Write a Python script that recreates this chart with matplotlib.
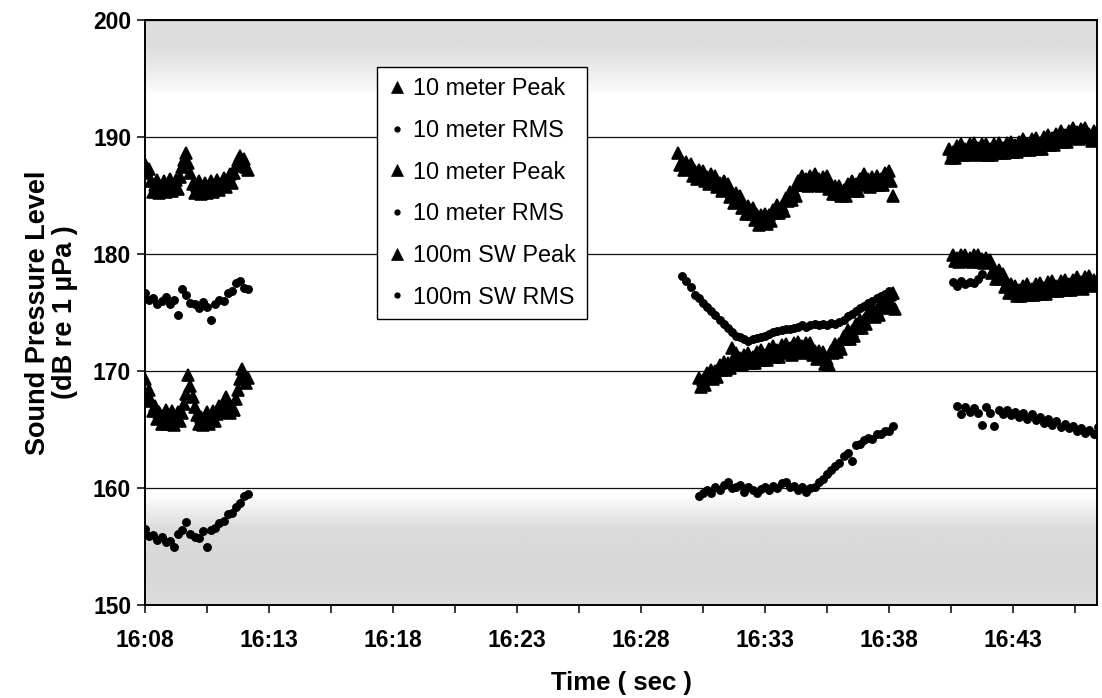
import matplotlib.pyplot as plt
import numpy as np
from matplotlib.ticker import FixedLocator, FuncFormatter

plt.rcParams['font.family'] = ['Liberation Sans', 'DejaVu Sans']
plt.rcParams['font.weight'] = 'bold'

# peak levels logged every 5 s, RMS levels every 10 s
PEAK_SEC = 5
RMS_SEC = 10

# ---- 16:08 - 16:12 block ----
g1_start = "16:08:00"
g1_peak_hi = [187.7, 186.9, 187.3, 186.2, 185.3, 185.9, 186.3, 185.2, 185.7, 186.2,
              185.3, 185.8, 186.4, 185.4, 185.9, 186.3, 185.6, 186.6, 187.4, 188.0,
              188.6, 187.8, 186.9, 186.0, 185.2, 185.8, 186.2, 185.1, 185.6, 186.1,
              185.2, 185.7, 186.2, 185.3, 185.8, 186.3, 185.5, 186.0, 186.5, 185.7,
              186.2, 186.8, 186.1, 186.9, 187.5, 188.0, 188.4, 187.9, 188.1, 187.4, 187.2]
g1_rms_hi = [176.7, 176.1, 176.2, 175.7, 176.0, 176.3, 175.7, 176.1, 174.8, 177.0, 176.5, 175.8, 175.7,
             175.4, 175.9, 175.5, 174.4, 175.7, 176.1, 176.0, 176.7, 176.8, 177.5, 177.7, 177.1, 177.0]
g1_peak_lo = [169.3, 167.9, 168.4, 167.4, 166.6, 167.0, 165.9, 166.5, 165.5, 166.2,
              166.7, 165.5, 166.1, 166.6, 165.4, 166.0, 166.5, 165.7, 166.4, 167.2,
              168.0, 169.7, 168.7, 167.8, 166.9, 166.2, 165.5, 166.1, 165.4, 165.9,
              166.5, 165.5, 166.0, 166.6, 165.7, 166.3, 167.0, 166.5, 167.3, 167.8,
              166.8, 166.4, 167.0, 166.7, 167.6, 168.4, 169.3, 170.2, 169.6, 169.0, 169.4]
g1_rms_lo = [156.5, 155.9, 156.0, 155.6, 155.8, 155.4, 155.5, 155.0, 156.1, 156.4, 157.1, 156.1, 155.8,
             155.7, 156.3, 155.0, 156.4, 156.6, 157.0, 157.2, 157.8, 157.9, 158.4, 158.7, 159.3, 159.5]

# ---- 16:29 - 16:38 block ----
g2_peak_hi_start = "16:29:30"
g2_peak_hi = [188.6, 187.6, 187.9, 187.2, 187.9, 187.3, 187.7, 186.7, 187.1, 186.4, 187.2, 186.6,
              187.1, 186.2, 186.6, 186.0, 186.8, 186.3, 186.7, 185.7, 186.1, 185.4, 186.2, 185.6,
              186.0, 184.9, 185.2, 184.4, 185.2, 184.5, 185.0, 183.9, 184.2, 183.4, 184.1, 183.4,
              183.9, 182.9, 183.3, 182.5, 183.3, 182.7, 183.4, 182.6, 183.3, 182.8, 183.8, 183.5,
              184.2, 183.5, 184.1, 183.7, 184.8, 184.5, 185.3, 184.6, 185.4, 185.0, 186.2, 185.9,
              186.7, 185.9, 186.4, 185.8, 186.7, 186.2, 186.8, 185.9, 186.4, 185.8, 186.6, 186.1,
              186.7, 185.6, 185.9, 185.1, 185.8, 185.1, 185.8, 185.0, 185.5, 185.0, 186.0, 185.5,
              186.2, 185.4, 186.0, 185.4, 186.4, 186.0, 186.8, 185.9, 186.4, 185.7, 186.6, 186.1,
              186.7, 185.9, 186.4, 185.9, 186.9, 186.4, 187.1, 186.2, 185.0]
g2_rms_hi_start = "16:29:40"
g2_rms_hi = [178.1, 177.7, 177.2, 176.5, 176.2, 175.8, 175.5, 175.1, 174.8, 174.4, 174.0, 173.7, 173.3,
             173.0, 172.9, 172.7, 172.6, 172.7, 172.8, 172.9, 173.0, 173.2, 173.3, 173.4, 173.5, 173.6,
             173.6, 173.7, 173.8, 173.9, 173.8, 173.9, 174.0, 173.9, 174.0, 173.9, 174.1, 174.0, 174.2,
             174.4, 174.7, 174.9, 175.1, 175.4, 175.6, 175.8, 176.0, 176.2, 176.4, 176.6, 176.8, 176.3]
g2_lo_start = "16:30:20"
g2_peak_lo = [169.4, 168.6, 169.2, 168.8, 169.8, 169.4, 170.1, 169.3, 170.0, 169.5, 170.5, 170.1,
              170.8, 170.1, 170.7, 170.3, 172.0, 170.9, 171.5, 170.6, 171.1, 170.5, 171.4, 170.9,
              171.5, 170.7, 171.2, 170.7, 171.6, 171.1, 171.8, 170.9, 171.4, 170.9, 171.9, 171.4,
              172.1, 171.2, 171.8, 171.2, 172.2, 171.7, 172.3, 171.5, 172.0, 171.4, 172.4, 171.9,
              172.5, 171.6, 172.1, 171.5, 172.4, 171.9, 172.4, 171.4, 171.7, 171.0, 171.7, 171.1,
              171.6, 170.6, 171.0, 170.5, 171.7, 171.5, 172.3, 171.6, 172.3, 171.9, 173.0, 172.7,
              173.5, 172.7, 173.4, 173.0, 174.0, 173.7, 174.4, 173.7, 174.4, 174.0, 175.0, 174.7,
              175.4, 174.6, 175.2, 174.8, 175.8, 175.4, 176.2, 175.5, 176.1, 175.6, 176.7, 175.3]
g2_rms_lo = [159.3, 159.6, 159.8, 159.6, 160.1, 159.8, 160.3, 160.5, 160.0, 160.1, 160.3, 159.7, 160.1,
             159.8, 159.6, 159.9, 160.1, 159.8, 160.2, 160.0, 160.4, 160.5, 160.1, 160.2, 159.8, 160.1,
             159.7, 160.0, 160.1, 160.5, 160.8, 161.2, 161.5, 161.9, 162.1, 162.7, 163.0, 162.3, 163.7,
             163.8, 164.1, 164.3, 164.2, 164.6, 164.6, 164.9, 164.9, 165.3]

# ---- 16:40 - 16:46 block (100 m SW) ----
g3_peak_start = "16:40:25"
g3_peak = [189.0, 188.2, 188.7, 188.2, 189.2, 188.7, 189.4, 188.5, 189.0, 188.5, 189.4, 188.9,
           189.5, 188.6, 189.1, 188.5, 189.4, 188.9, 189.4, 188.5, 189.0, 188.5, 189.4, 188.9,
           189.5, 188.6, 189.1, 188.6, 189.5, 189.0, 189.6, 188.7, 189.3, 188.7, 189.6, 189.2,
           189.8, 188.9, 189.4, 188.9, 189.8, 189.3, 189.9, 189.0, 189.5, 189.0, 190.0, 189.5,
           190.2, 189.3, 189.9, 189.3, 190.3, 189.8, 190.5, 189.6, 190.2, 189.6, 190.5, 190.1,
           190.8, 189.9, 190.4, 189.8, 190.7, 190.2, 190.8, 189.9, 190.3, 189.7, 190.5, 190.0]
g3_mid_start = "16:40:35"
g3_mid = [179.9, 179.4, 179.7, 179.3, 179.9, 179.6, 179.9, 179.4, 179.7, 179.3, 179.9, 179.6,
          179.9, 179.3, 179.6, 179.2, 179.7, 179.3, 179.5, 178.4, 178.7, 177.9, 178.6, 177.9,
          178.3, 177.2, 177.5, 176.7, 177.4, 176.7, 177.3, 176.4, 176.9, 176.4, 177.3, 176.8,
          177.4, 176.5, 177.0, 176.5, 177.4, 176.9, 177.5, 176.6, 177.1, 176.6, 177.6, 177.1,
          177.7, 176.8, 177.3, 176.8, 177.7, 177.2, 177.8, 176.9, 177.4, 176.9, 177.8, 177.3,
          178.0, 177.1, 177.6, 177.0, 178.0, 177.5, 178.1, 177.3, 177.8]
g3_mid_arm = [177.6, 177.3, 177.7, 177.4, 177.6, 177.5, 177.9, 178.3]
g3_rms_start = "16:40:45"
g3_rms = [167.0, 166.3, 166.9, 166.5, 166.8, 166.4, 165.4, 166.9, 166.4, 165.3, 166.7, 166.3, 166.7,
          166.2, 166.5, 166.1, 166.4, 165.9, 166.3, 165.8, 166.1, 165.6, 165.9, 165.4, 165.7, 165.2,
          165.5, 165.1, 165.3, 164.9, 165.1, 164.7, 165.0, 164.6, 165.2]


def seg_times(start, step, n):
    # minutes after 16:00
    h, m, s = map(int, start.split(':'))
    t0 = (h - 16) * 60 + m + s / 60
    return [t0 + i * step / 60 for i in range(n)]


def series(*segments):
    xs, ys = [], []
    for start, step, vals in segments:
        xs += seg_times(start, step, len(vals))
        ys += vals
    return xs, ys


fig = plt.figure(figsize=(11.02, 6.98), dpi=100)
ax = fig.add_axes([0.1316, 0.1332, 0.8639, 0.8381])

x_min, x_max = 8.0, 46.39

# grey scan tint at the top and bottom of the plot area
tint_y = [150, 153, 156.5, 158.5, 159.5, 193.5, 195.5, 198, 200]
tint_g = [0.86, 0.84, 0.86, 0.95, 1.0, 1.0, 0.93, 0.86, 0.87]
yy = np.linspace(150, 200, 500)
shade = np.interp(yy, tint_y, tint_g)[::-1].reshape(-1, 1)
ax.imshow(shade, extent=[x_min, x_max, 150, 200], aspect='auto', cmap='gray',
          vmin=0, vmax=1, zorder=0, interpolation='bilinear')

tri = dict(ls='none', marker='^', ms=8.2, mew=1.2, color='black', mec='black', zorder=3)
dot = dict(ls='none', marker='o', ms=5.4, mew=1.0, color='black', mec='black', zorder=3)

x, y = series((g1_start, PEAK_SEC, g1_peak_hi), (g2_peak_hi_start, PEAK_SEC, g2_peak_hi))
ax.plot(x, y, label='10 meter Peak', **tri)
x, y = series((g1_start, RMS_SEC, g1_rms_hi), (g2_rms_hi_start, RMS_SEC, g2_rms_hi))
ax.plot(x, y, label='10 meter RMS', **dot)
x, y = series((g1_start, PEAK_SEC, g1_peak_lo), (g2_lo_start, PEAK_SEC, g2_peak_lo))
ax.plot(x, y, label='10 meter Peak', **tri)
x, y = series((g1_start, RMS_SEC, g1_rms_lo), (g2_lo_start, RMS_SEC, g2_rms_lo))
ax.plot(x, y, label='10 meter RMS', **dot)
x, y = series((g3_peak_start, PEAK_SEC, g3_peak), (g3_mid_start, PEAK_SEC, g3_mid))
ax.plot(x, y, label='100m SW Peak', **tri)
x, y = series((g3_mid_start, RMS_SEC, g3_mid_arm), (g3_rms_start, RMS_SEC, g3_rms))
ax.plot(x, y, label='100m SW RMS', **dot)

ax.set_xlim(x_min, x_max)
ax.set_ylim(150, 200)
ax.set_yticks([150, 160, 170, 180, 190, 200])
ax.yaxis.grid(True, color='#111111', lw=0.9)
ax.set_axisbelow(True)

ax.xaxis.set_major_locator(FixedLocator([8, 13, 18, 23, 28, 33, 38, 43]))
ax.xaxis.set_minor_locator(FixedLocator([10.5, 15.5, 20.5, 25.5, 30.5, 35.5, 40.5, 45.5]))
ax.xaxis.set_major_formatter(FuncFormatter(lambda v, _: f"16:{int(round(v)):02d}"))

ax.tick_params(axis='x', which='both', direction='out', length=6, width=1.1, pad=11, labelsize=16.5)
ax.tick_params(axis='y', direction='out', length=6, width=1.1, pad=4, labelsize=16.5)

for s in ax.spines.values():
    s.set_color('black')
    s.set_linewidth(1.4)

ax.set_xlabel('Time ( sec )', fontsize=18.5, fontweight='bold', labelpad=14)
ax.set_ylabel('Sound Pressure Level\n(dB re 1 µPa )', fontsize=19.5, fontweight='bold',
              labelpad=11, linespacing=1.05)

leg = ax.legend(loc='upper left', bbox_to_anchor=(0.244, 0.92), borderaxespad=0,
                prop={'size': 16.8, 'weight': 'normal'}, frameon=True, fancybox=False,
                edgecolor='black', framealpha=1, handlelength=0.8, handletextpad=0.3,
                borderpad=0.45, labelspacing=0.8)
leg.get_frame().set_linewidth(1.0)
for h in leg.legend_handles:
    if h.get_marker() == 'o':
        h.set_markersize(3.5)
    else:
        h.set_markersize(8.5)
        h.set_markeredgewidth(0.5)

fig.savefig('out.png', dpi=100)
